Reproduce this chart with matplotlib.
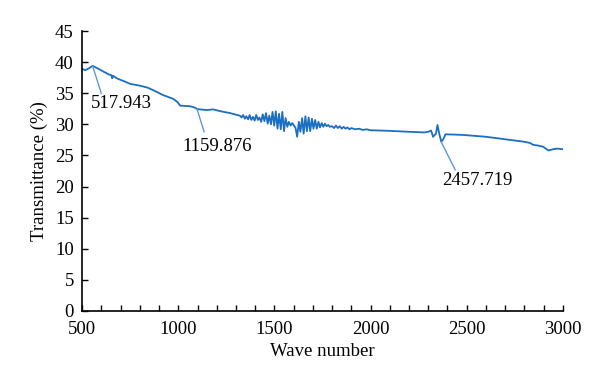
import matplotlib
matplotlib.use('Agg')
import matplotlib.pyplot as plt
from matplotlib.ticker import MultipleLocator

plt.rcParams['font.family'] = ['Liberation Serif', 'DejaVu Serif']

# spectrum
wave = [500, 516, 535, 554, 580, 609, 640, 652, 656, 661, 675, 687, 720, 750, 802, 840, 869,
        921, 973, 995, 1010, 1040, 1062, 1085, 1098, 1130, 1150, 1181, 1220, 1270, 1306,
        1320, 1329, 1337, 1346, 1354, 1363, 1371, 1380, 1388, 1397, 1405, 1414, 1422, 1431,
        1439, 1448, 1456, 1465, 1473, 1482, 1490, 1499, 1507, 1516, 1524, 1533, 1541, 1550,
        1558, 1567, 1575, 1584, 1592, 1600, 1610,
        1618, 1627, 1635, 1644, 1652, 1661, 1669, 1678, 1686, 1695, 1703, 1712, 1720, 1729,
        1737, 1746, 1754, 1763, 1771, 1780, 1788,
        1800, 1810, 1820, 1830, 1840, 1850, 1860, 1870, 1880, 1890, 1900, 1920, 1940, 1960,
        1980, 2000, 2100, 2200, 2280, 2300, 2315, 2325, 2340, 2348, 2358, 2368, 2378, 2390,
        2480, 2600, 2700, 2800, 2830, 2846, 2870, 2898, 2925, 2950, 2970, 3000]
trans = [38.9, 38.7, 39.0, 39.4, 39.0, 38.5, 38.0, 37.9, 37.4, 37.8, 37.5, 37.3, 36.9, 36.5,
         36.2, 35.9, 35.5, 34.7, 34.1, 33.6, 33.0, 32.95, 32.9, 32.7, 32.45, 32.35, 32.3,
         32.4, 32.1, 31.8, 31.5,
         31.4, 31.1, 31.5, 30.9, 31.3, 30.8, 31.5, 30.7, 31.2, 30.6, 31.5, 30.7, 31.1, 30.4,
         31.6, 30.5, 31.8, 30.1, 31.4, 30.0, 32.0, 29.8, 32.1, 29.3, 31.7, 29.2, 32.0, 28.9,
         31.0, 29.6, 30.4, 29.8, 30.2, 29.9, 29.4,
         28.0, 30.4, 28.8, 31.0, 28.5, 31.3, 28.9, 31.1, 28.9, 30.9, 29.3, 30.7, 29.3, 30.4,
         29.5, 30.2, 29.6, 30.1, 29.7, 29.9, 29.6,
         29.7, 29.4, 29.8, 29.4, 29.7, 29.3, 29.6, 29.3, 29.5, 29.2, 29.4, 29.2, 29.3, 29.1,
         29.2, 29.05, 28.95, 28.8, 28.7, 28.8, 29.0, 28.0, 28.5, 29.9, 28.4, 27.2, 27.6, 28.4,
         28.3, 28.0, 27.6, 27.2, 27.0, 26.7, 26.6, 26.4, 25.8, 26.0, 26.1, 26.0]

peak_labels = ['517.943', '1159.876', '2457.719']
peak_pts = [(554, 39.4), (1098, 32.4), (2367, 27.2)]
leader_ends = [(599, 35.0), (1134, 28.8), (2440, 22.7)]
text_pos = [(547, 33.3), (1020, 26.5), (2372, 20.9)]

fig = plt.figure(figsize=(6, 3.9), dpi=100)
ax = fig.add_axes([0.137, 0.2026, 0.801, 0.7179])

ax.plot(wave, trans, color='#1b6ec2', lw=1.3)

for lab, p, e, t in zip(peak_labels, peak_pts, leader_ends, text_pos):
    ax.plot([p[0], e[0]], [p[1], e[1]], color='#5b9bd5', lw=1.0)
    ax.text(t[0], t[1], lab, fontsize=13.5, va='center', ha='left')

ax.set_xlim(500, 3000)
ax.set_ylim(0, 45)
ax.xaxis.set_major_locator(MultipleLocator(500))
ax.xaxis.set_minor_locator(MultipleLocator(100))
ax.yaxis.set_major_locator(MultipleLocator(5))
ax.tick_params(direction='in', length=4, width=1, labelsize=13.5)
ax.tick_params(axis='x', pad=7)
ax.tick_params(axis='y', pad=6)
ax.tick_params(which='minor', direction='in', length=4, width=1)
ax.spines['top'].set_visible(False)
ax.spines['right'].set_visible(False)
ax.spines['left'].set_linewidth(1.2)
ax.spines['bottom'].set_linewidth(1.2)

ax.set_xlabel('Wave number', fontsize=13.5, labelpad=4)
ax.set_ylabel('Transmittance (%)', fontsize=13.5, labelpad=5)

fig.savefig('out.png', dpi=100)
